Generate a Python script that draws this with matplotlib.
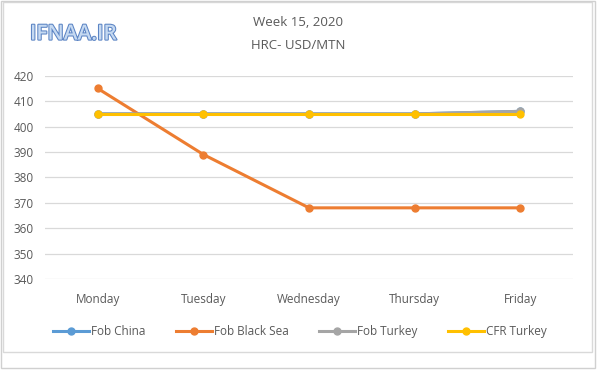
import matplotlib.pyplot as plt
import matplotlib.patheffects as pe
from matplotlib.patches import Rectangle

# ───── Data ─────
days = ['Monday', 'Tuesday', 'Wednesday', 'Thursday', 'Friday']
fob_china = [405, 405, 405, 405, 406]
fob_black_sea = [415, 389, 368, 368, 368]
fob_turkey = [405, 405, 405, 405, 406]
cfr_turkey = [405, 405, 405, 405, 405]

series = [
    ('Fob China', fob_china, '#5B9BD5'),
    ('Fob Black Sea', fob_black_sea, '#ED7D31'),
    ('Fob Turkey', fob_turkey, '#A5A5A5'),
    ('CFR Turkey', cfr_turkey, '#FFC000'),
]

TXT = '#595959'
plt.rcParams['font.family'] = ['Open Sans', 'DejaVu Sans']

fig = plt.figure(figsize=(6, 3.79), dpi=100)
ax = fig.add_axes([0.075, 0.264, 0.88, 0.536])

x = range(len(days))
for name, vals, col in series:
    ax.plot(x, vals, color=col, lw=2.2, marker='o', ms=5, label=name)

ax.set_xlim(-0.5, len(days) - 0.5)
ax.set_ylim(340, 420)
ax.set_yticks(range(340, 421, 10))
ax.set_xticks(list(x))
ax.set_xticklabels(days)
ax.grid(axis='y', color='#D9D9D9', lw=0.9)
ax.set_axisbelow(True)
for s in ax.spines.values():
    s.set_visible(False)
ax.tick_params(length=0, labelsize=8.5, labelcolor=TXT)
ax.tick_params(axis='x', pad=10)
ax.tick_params(axis='y', pad=8)

fig.text(0.497, 0.94, 'Week 15, 2020', ha='center', va='center', fontsize=9.5, color=TXT)
fig.text(0.497, 0.88, 'HRC- USD/MTN', ha='center', va='center', fontsize=9.5, color=TXT)
fig.text(0.05, 0.91, 'IFNAA.IR', ha='left', va='center', fontsize=15, fontweight='semibold',
         color='#C5D9F1', path_effects=[pe.withStroke(linewidth=1.5, foreground='#5B84C4')])

fig.legend(loc='center', bbox_to_anchor=(0.5, 0.125), ncol=4, frameon=False,
           fontsize=8.5, labelcolor=TXT, handlelength=3, columnspacing=2.6, handletextpad=0.2)

# chart frames
fig.add_artist(Rectangle((0.005, 0.071), 0.982, 0.924, transform=fig.transFigure,
                         fill=False, ec='#D9D9D9', lw=1))
fig.add_artist(Rectangle((0.001, 0.029), 0.991, 0.969, transform=fig.transFigure,
                         fill=False, ec='#D0D0D0', lw=1))

fig.savefig('out.png', dpi=100)
